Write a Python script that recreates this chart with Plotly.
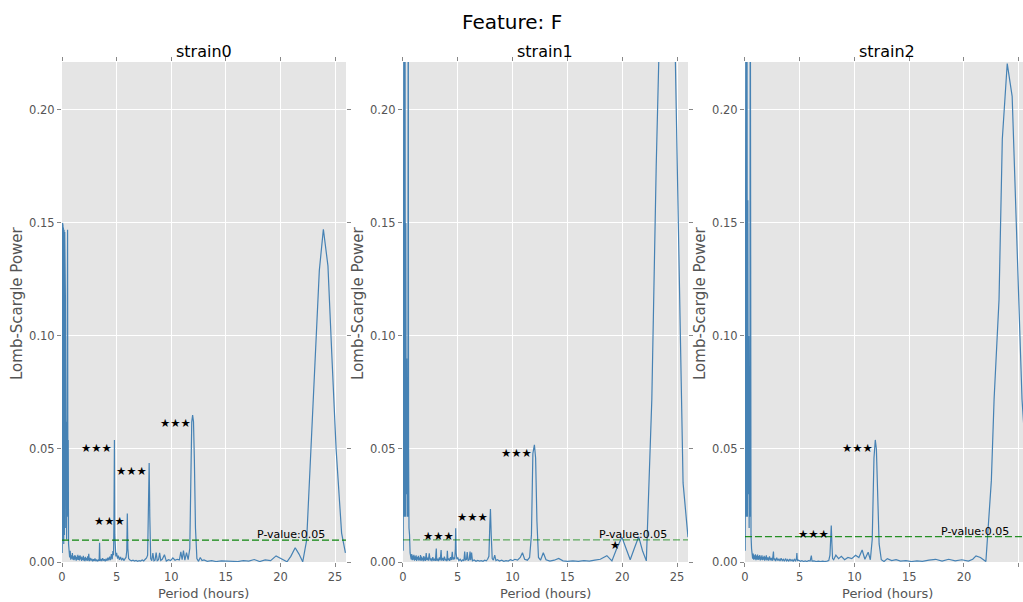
import plotly.graph_objects as go

# Lomb-Scargle periodograms of feature F, one per strain: (period in hours, power)
curve_s0 = [
    (0.02, 0.004), (0.05, 0.150), (0.07, 0.006), (0.09, 0.149), (0.11, 0.010), (0.13, 0.148),
    (0.16, 0.008), (0.19, 0.147), (0.22, 0.012), (0.25, 0.146), (0.28, 0.020), (0.31, 0.118),
    (0.34, 0.015), (0.38, 0.062), (0.42, 0.010), (0.45, 0.054), (0.48, 0.030), (0.51, 0.147),
    (0.54, 0.020), (0.57, 0.054), (0.60, 0.008),
    (0.65, 0.004), (0.70, 0.002), (0.75, 0.005), (0.80, 0.001), (0.85, 0.003), (0.90, 0.0015),
    (0.95, 0.004), (1.00, 0.001), (1.05, 0.0025), (1.10, 0.0008), (1.15, 0.003), (1.20, 0.0012),
    (1.25, 0.0028), (1.30, 0.0006), (1.35, 0.0022), (1.40, 0.001), (1.45, 0.0032), (1.50, 0.0009),
    (1.55, 0.0026), (1.60, 0.0007), (1.65, 0.003), (1.70, 0.0012), (1.75, 0.0024), (1.80, 0.0005),
    (1.85, 0.0021), (1.90, 0.0009), (1.95, 0.0027), (2.00, 0.0006), (2.05, 0.0019), (2.10, 0.0004),
    (2.15, 0.0023), (2.20, 0.0008), (2.25, 0.0017), (2.30, 0.0005), (2.35, 0.0025), (2.40, 0.0007),
    (2.45, 0.0036), (2.50, 0.0004), (2.58, 0.0018), (2.65, 0.0006), (2.72, 0.0015), (2.80, 0.0003),
    (2.88, 0.0012), (2.95, 0.0005), (3.02, 0.0016), (3.10, 0.0004), (3.18, 0.0011), (3.26, 0.0003),
    (3.34, 0.0009), (3.40, 0.0006), (3.44, 0.0085), (3.48, 0.0005), (3.56, 0.0013), (3.64, 0.0004),
    (3.72, 0.0017), (3.80, 0.0006), (3.88, 0.0012), (3.96, 0.0003), (4.04, 0.0015), (4.12, 0.0005),
    (4.20, 0.0019), (4.28, 0.0007), (4.36, 0.0024), (4.44, 0.0008), (4.52, 0.0035), (4.60, 0.0012),
    (4.66, 0.0048), (4.72, 0.0030), (4.76, 0.020), (4.80, 0.054), (4.83, 0.012), (4.87, 0.0045),
    (4.93, 0.0025), (5.00, 0.0040), (5.08, 0.0015), (5.16, 0.0028), (5.26, 0.0010), (5.36, 0.0022),
    (5.46, 0.0008), (5.56, 0.0018), (5.66, 0.0006), (5.76, 0.0014), (5.86, 0.0020), (5.93, 0.0050),
    (5.98, 0.0215), (6.03, 0.0060), (6.10, 0.0015), (6.22, 0.0009), (6.36, 0.0005), (6.50, 0.0008),
    (6.64, 0.0004), (6.78, 0.0007), (6.92, 0.0003), (7.06, 0.0006), (7.20, 0.0004), (7.34, 0.0009),
    (7.48, 0.0005), (7.62, 0.0012), (7.74, 0.0018), (7.84, 0.0030), (7.92, 0.030), (7.98, 0.0438),
    (8.04, 0.020), (8.12, 0.0015), (8.22, 0.0006), (8.32, 0.0040), (8.42, 0.0005), (8.52, 0.0008),
    (8.62, 0.0042), (8.72, 0.0006), (8.84, 0.0010), (8.94, 0.0040), (9.04, 0.0007), (9.18, 0.0012),
    (9.38, 0.0032), (9.55, 0.0004), (9.75, 0.0010), (9.95, 0.0006), (10.15, 0.0018), (10.35, 0.0008),
    (10.55, 0.0012), (10.75, 0.0010), (10.88, 0.0045), (11.00, 0.0010), (11.12, 0.0050),
    (11.25, 0.0008), (11.40, 0.0042), (11.55, 0.0010), (11.70, 0.0060), (11.80, 0.040),
    (11.88, 0.062), (11.96, 0.065), (12.04, 0.062), (12.12, 0.045), (12.22, 0.015), (12.35, 0.0015),
    (12.50, 0.0003), (12.66, 0.0020), (12.82, 0.0006), (13.00, 0.0009), (13.30, 0.0003),
    (13.70, 0.0006), (14.10, 0.0002), (14.60, 0.0005), (15.10, 0.0003), (15.60, 0.0004),
    (16.10, 0.0002), (16.60, 0.0006), (17.10, 0.0004), (17.60, 0.0011), (18.10, 0.0002),
    (18.60, 0.0009), (19.10, 0.0006), (19.60, 0.0027), (20.10, 0.0015), (20.60, 0.0001),
    (20.95, 0.0025), (21.35, 0.0063), (21.70, 0.0035), (22.04, 0.0001), (22.40, 0.0097),
    (22.80, 0.0496), (23.26, 0.0997), (23.56, 0.129), (23.93, 0.1472), (24.35, 0.131),
    (24.70, 0.092), (25.10, 0.0496), (25.60, 0.0128), (25.95, 0.004),
]

curve_s1 = [
    (0.02, 0.005), (0.05, 0.300), (0.07, 0.010), (0.09, 0.300), (0.11, 0.020), (0.13, 0.300),
    (0.16, 0.030), (0.19, 0.250), (0.22, 0.020), (0.26, 0.150), (0.30, 0.030), (0.34, 0.090),
    (0.38, 0.020), (0.42, 0.060), (0.45, 0.020), (0.48, 0.300), (0.51, 0.050), (0.55, 0.015),
    (0.60, 0.012), (0.65, 0.004),
    (0.70, 0.003), (0.75, 0.0012), (0.80, 0.0035), (0.85, 0.0008), (0.90, 0.0028), (0.95, 0.0010),
    (1.00, 0.0032), (1.05, 0.0006), (1.10, 0.0025), (1.15, 0.0009), (1.20, 0.0030), (1.25, 0.0005),
    (1.30, 0.0022), (1.35, 0.0010), (1.40, 0.0027), (1.45, 0.0006), (1.50, 0.0020), (1.55, 0.0008),
    (1.60, 0.0031), (1.65, 0.0005), (1.70, 0.0024), (1.75, 0.0009), (1.80, 0.0018), (1.85, 0.0004),
    (1.90, 0.0026), (1.95, 0.0007), (2.00, 0.0021), (2.05, 0.0005), (2.12, 0.0040), (2.18, 0.0008),
    (2.25, 0.0019), (2.32, 0.0006), (2.40, 0.0038), (2.48, 0.0007), (2.56, 0.0016), (2.64, 0.0004),
    (2.72, 0.0022), (2.80, 0.0006), (2.88, 0.0014), (2.96, 0.0005), (3.04, 0.0060), (3.08, 0.0006),
    (3.16, 0.0015), (3.24, 0.0004), (3.32, 0.0020), (3.40, 0.0007), (3.48, 0.0053), (3.53, 0.0006),
    (3.62, 0.0018), (3.70, 0.0005), (3.78, 0.0024), (3.86, 0.0007), (3.94, 0.0013), (4.00, 0.0004),
    (4.05, 0.0050), (4.10, 0.0008), (4.18, 0.0016), (4.26, 0.0005), (4.34, 0.0021), (4.42, 0.0009),
    (4.50, 0.0045), (4.56, 0.0010), (4.64, 0.0020), (4.72, 0.0012), (4.78, 0.0060), (4.81, 0.0149),
    (4.85, 0.0040), (4.92, 0.0012), (5.00, 0.0020), (5.10, 0.0006), (5.22, 0.0012), (5.34, 0.0004),
    (5.46, 0.0010), (5.56, 0.0005), (5.63, 0.0046), (5.70, 0.0008), (5.80, 0.0012), (5.86, 0.0044),
    (5.94, 0.0006), (6.04, 0.0010), (6.12, 0.0046), (6.18, 0.0008), (6.26, 0.0042), (6.34, 0.0005),
    (6.50, 0.0009), (6.66, 0.0003), (6.82, 0.0007), (6.98, 0.0004), (7.14, 0.0006), (7.30, 0.0003),
    (7.46, 0.0008), (7.60, 0.0005), (7.72, 0.0012), (7.84, 0.0025), (7.92, 0.016), (7.98, 0.0234),
    (8.05, 0.012), (8.14, 0.0015), (8.25, 0.0008), (8.37, 0.0030), (8.48, 0.0006), (8.62, 0.0010),
    (8.80, 0.0004), (9.00, 0.0008), (9.20, 0.0003), (9.40, 0.0006), (9.60, 0.0004), (9.80, 0.0010),
    (10.00, 0.0006), (10.20, 0.0012), (10.45, 0.0008), (10.70, 0.0020), (10.90, 0.0041),
    (11.10, 0.0012), (11.35, 0.0008), (11.55, 0.0020), (11.72, 0.012), (11.85, 0.048),
    (11.99, 0.0518), (12.10, 0.046), (12.22, 0.018), (12.36, 0.0020), (12.55, 0.0008),
    (12.80, 0.0041), (13.05, 0.0010), (13.40, 0.0004), (13.80, 0.0008), (14.20, 0.0016),
    (14.60, 0.0005), (15.00, 0.0003), (15.50, 0.0005), (16.00, 0.0003), (16.50, 0.0006),
    (17.00, 0.0004), (17.50, 0.0008), (18.00, 0.0012), (18.60, 0.0028), (19.06, 0.0005),
    (19.50, 0.0060), (19.97, 0.0110), (20.35, 0.0060), (20.73, 0.0010), (21.10, 0.0060),
    (21.50, 0.0112), (21.85, 0.0050), (22.20, 0.0005), (22.70, 0.072), (23.10, 0.175),
    (23.50, 0.255), (23.90, 0.285), (24.40, 0.272), (24.85, 0.221), (25.38, 0.080),
    (25.55, 0.035), (26.00, 0.011),
]

curve_s2 = [
    (0.02, 0.005), (0.05, 0.300), (0.07, 0.012), (0.09, 0.300), (0.11, 0.020), (0.13, 0.280),
    (0.16, 0.025), (0.19, 0.220), (0.22, 0.020), (0.26, 0.160), (0.30, 0.030), (0.34, 0.100),
    (0.38, 0.015), (0.42, 0.070), (0.45, 0.020), (0.48, 0.300), (0.51, 0.040), (0.55, 0.012),
    (0.60, 0.006),
    (0.65, 0.0035), (0.70, 0.0015), (0.75, 0.0037), (0.80, 0.0010), (0.85, 0.0030), (0.90, 0.0012),
    (0.95, 0.0034), (1.00, 0.0008), (1.05, 0.0028), (1.10, 0.0011), (1.15, 0.0033), (1.20, 0.0009),
    (1.25, 0.0026), (1.30, 0.0012), (1.35, 0.0031), (1.40, 0.0007), (1.45, 0.0024), (1.50, 0.0010),
    (1.55, 0.0029), (1.60, 0.0008), (1.65, 0.0022), (1.70, 0.0011), (1.75, 0.0027), (1.80, 0.0006),
    (1.85, 0.0023), (1.90, 0.0010), (1.95, 0.0030), (2.00, 0.0007), (2.08, 0.0020), (2.16, 0.0006),
    (2.24, 0.0025), (2.32, 0.0008), (2.40, 0.0018), (2.48, 0.0005), (2.55, 0.0024), (2.60, 0.0046),
    (2.64, 0.0008), (2.72, 0.0016), (2.80, 0.0004), (2.90, 0.0019), (3.00, 0.0006), (3.10, 0.0014),
    (3.20, 0.0004), (3.30, 0.0017), (3.40, 0.0006), (3.50, 0.0012), (3.60, 0.0003), (3.70, 0.0015),
    (3.80, 0.0005), (3.90, 0.0011), (4.00, 0.0003), (4.10, 0.0013), (4.20, 0.0005), (4.30, 0.0010),
    (4.40, 0.0003), (4.50, 0.0012), (4.60, 0.0005), (4.70, 0.0015), (4.74, 0.0040), (4.78, 0.0006),
    (4.90, 0.0008), (5.05, 0.0003), (5.20, 0.0006), (5.35, 0.0002), (5.50, 0.0005), (5.65, 0.0002),
    (5.80, 0.0006), (5.95, 0.0004), (6.06, 0.0028), (6.12, 0.0004), (6.30, 0.0005), (6.50, 0.0002),
    (6.70, 0.0004), (6.90, 0.0002), (7.10, 0.0004), (7.30, 0.0002), (7.50, 0.0004), (7.65, 0.0006),
    (7.76, 0.0030), (7.82, 0.012), (7.88, 0.0161), (7.94, 0.0080), (8.00, 0.0015), (8.10, 0.0010),
    (8.30, 0.0030), (8.55, 0.0015), (8.80, 0.0025), (9.10, 0.0010), (9.40, 0.0020), (9.75, 0.0015),
    (10.10, 0.0030), (10.40, 0.0020), (10.70, 0.0053), (10.95, 0.0012), (11.25, 0.0043),
    (11.45, 0.0010), (11.62, 0.0100), (11.78, 0.046), (11.90, 0.0540), (12.00, 0.0500),
    (12.10, 0.030), (12.25, 0.008), (12.45, 0.0010), (12.70, 0.0002), (13.00, 0.0015),
    (13.40, 0.0006), (13.80, 0.0010), (14.20, 0.0004), (14.70, 0.0006), (15.20, 0.0002),
    (15.70, 0.0005), (16.20, 0.0003), (16.80, 0.0008), (17.40, 0.0012), (18.00, 0.0004),
    (18.60, 0.0012), (19.20, 0.0005), (19.80, 0.0010), (20.40, 0.0004), (20.80, 0.0012),
    (21.10, 0.0027), (21.50, 0.0020), (22.00, 0.0002), (22.50, 0.036), (22.75, 0.072),
    (23.20, 0.116), (23.50, 0.187), (23.95, 0.2205), (24.40, 0.206), (24.85, 0.138),
    (25.30, 0.072), (25.60, 0.050),
]

# Significant peaks (period in hours) and their star labels
marks_s0 = [(4.80, "★★★"), (5.98, "★★★"), (7.98, "★★★"), (11.96, "★★★")]
marks_s1 = [(4.81, "★★★"), (7.98, "★★★"), (11.99, "★★★"), (19.97, "★")]
marks_s2 = [(7.88, "★★★"), (11.90, "★★★")]

# Power level of the p = 0.05 threshold for each strain
threshold = [0.0097, 0.0098, 0.0112]
threshold_alpha = [0.94, 0.6, 0.84]
threshold_label = "P-value:0.05"

strains = ["strain0", "strain1", "strain2"]
x_ticks = [0, 5, 10, 15, 20, 25]
y_ticks = [0.00, 0.05, 0.10, 0.15, 0.20]

curves = [curve_s0, curve_s1, curve_s2]
marks = [marks_s0, marks_s1, marks_s2]

# Panel placement inside the plotting area (fractions of its width)
domains = [(0.0, 0.2955), (0.3548, 0.6514), (0.7107, 1.0)]
x_ranges = [[0, 26], [0, 26], [0, 25.39]]
y_range = [0, 0.2212]

FONT = "DejaVu Sans"
LINE = "#4682B4"
PANEL_BG = "#E5E5E5"
TICK_GREY = "#555555"

fig = go.Figure()
annotations = []

for i, name in enumerate(strains):
    xa = "x" if i == 0 else f"x{i + 1}"
    ya = "y" if i == 0 else f"y{i + 1}"
    periods = [p for p, _ in curves[i]]
    powers = [v for _, v in curves[i]]
    lookup = dict(curves[i])

    fig.add_trace(go.Scatter(
        x=periods, y=powers, mode="lines", xaxis=xa, yaxis=ya,
        line=dict(color=LINE, width=1.2), showlegend=False, hoverinfo="skip",
    ))
    fig.add_trace(go.Scatter(
        x=[0, 26], y=[threshold[i], threshold[i]], mode="lines", xaxis=xa, yaxis=ya,
        line=dict(color=f"rgba(0,128,0,{threshold_alpha[i]})", width=1.3, dash="7px,3px"),
        showlegend=False, hoverinfo="skip",
    ))

    # star labels sit just left of each peak, top-aligned with its maximum
    for period, stars in marks[i]:
        annotations.append(dict(
            x=period, y=lookup[period], xref=xa, yref=ya, text=stars,
            showarrow=False, xanchor="right", yanchor="top",
            font=dict(family=FONT, size=11.5, color="black"), yshift=1,
        ))

    annotations.append(dict(
        x=17.7, y=threshold[i], xref=xa, yref=ya, text=threshold_label,
        showarrow=False, xanchor="left", yanchor="bottom", yshift=-3,
        font=dict(family=FONT, size=11, color="black"),
    ))

    d0, d1 = domains[i]
    full_w = (d1 - d0) * (26 / x_ranges[i][1])
    centre = d0 + full_w / 2
    annotations.append(dict(
        x=centre, y=1.0, xref="paper", yref="paper", text=name, showarrow=False,
        xanchor="center", yanchor="bottom", yshift=-1,
        font=dict(family=FONT, size=16, color="black"),
    ))
    annotations.append(dict(
        x=centre, y=0, xref="paper", yref="paper", text="Period (hours)", showarrow=False,
        xanchor="center", yanchor="middle", yshift=-31,
        font=dict(family=FONT, size=13, color=TICK_GREY),
    ))
    annotations.append(dict(
        x=d0, y=0.5, xref="paper", yref="paper", text="Lomb-Scargle Power", showarrow=False,
        xanchor="center", yanchor="middle", xshift=-45, yshift=9, textangle=-90,
        font=dict(family=FONT, size=15, color=TICK_GREY),
    ))

    axis_common = dict(
        showgrid=True, gridcolor="white", gridwidth=1, zeroline=False, showline=False,
        ticks="outside", ticklen=4, tickcolor="#888888", mirror="ticks",
        tickfont=dict(family=FONT, size=11.5, color=TICK_GREY),
    )
    fig.update_layout({
        f"xaxis{'' if i == 0 else i + 1}": dict(
            domain=list(domains[i]), range=x_ranges[i], anchor=ya,
            tickvals=x_ticks, ticktext=[str(t) for t in x_ticks], **axis_common,
        ),
        f"yaxis{'' if i == 0 else i + 1}": dict(
            domain=[0, 1], range=y_range, anchor=xa,
            tickvals=y_ticks, tickformat=".2f", **axis_common,
        ),
    })

# figure title, centred on the whole canvas
annotations.append(dict(
    x=(511.5 - 62) / 961, y=1.0, xref="paper", yref="paper", text="Feature: F",
    showarrow=False, xanchor="center", yanchor="middle", yshift=40,
    font=dict(family=FONT, size=20, color="black"),
))

fig.update_layout(
    width=1023, height=602,
    margin=dict(l=62, r=0, t=62, b=40),
    paper_bgcolor="white", plot_bgcolor=PANEL_BG,
    annotations=annotations,
    font=dict(family=FONT),
)

fig.write_html("out.html")
